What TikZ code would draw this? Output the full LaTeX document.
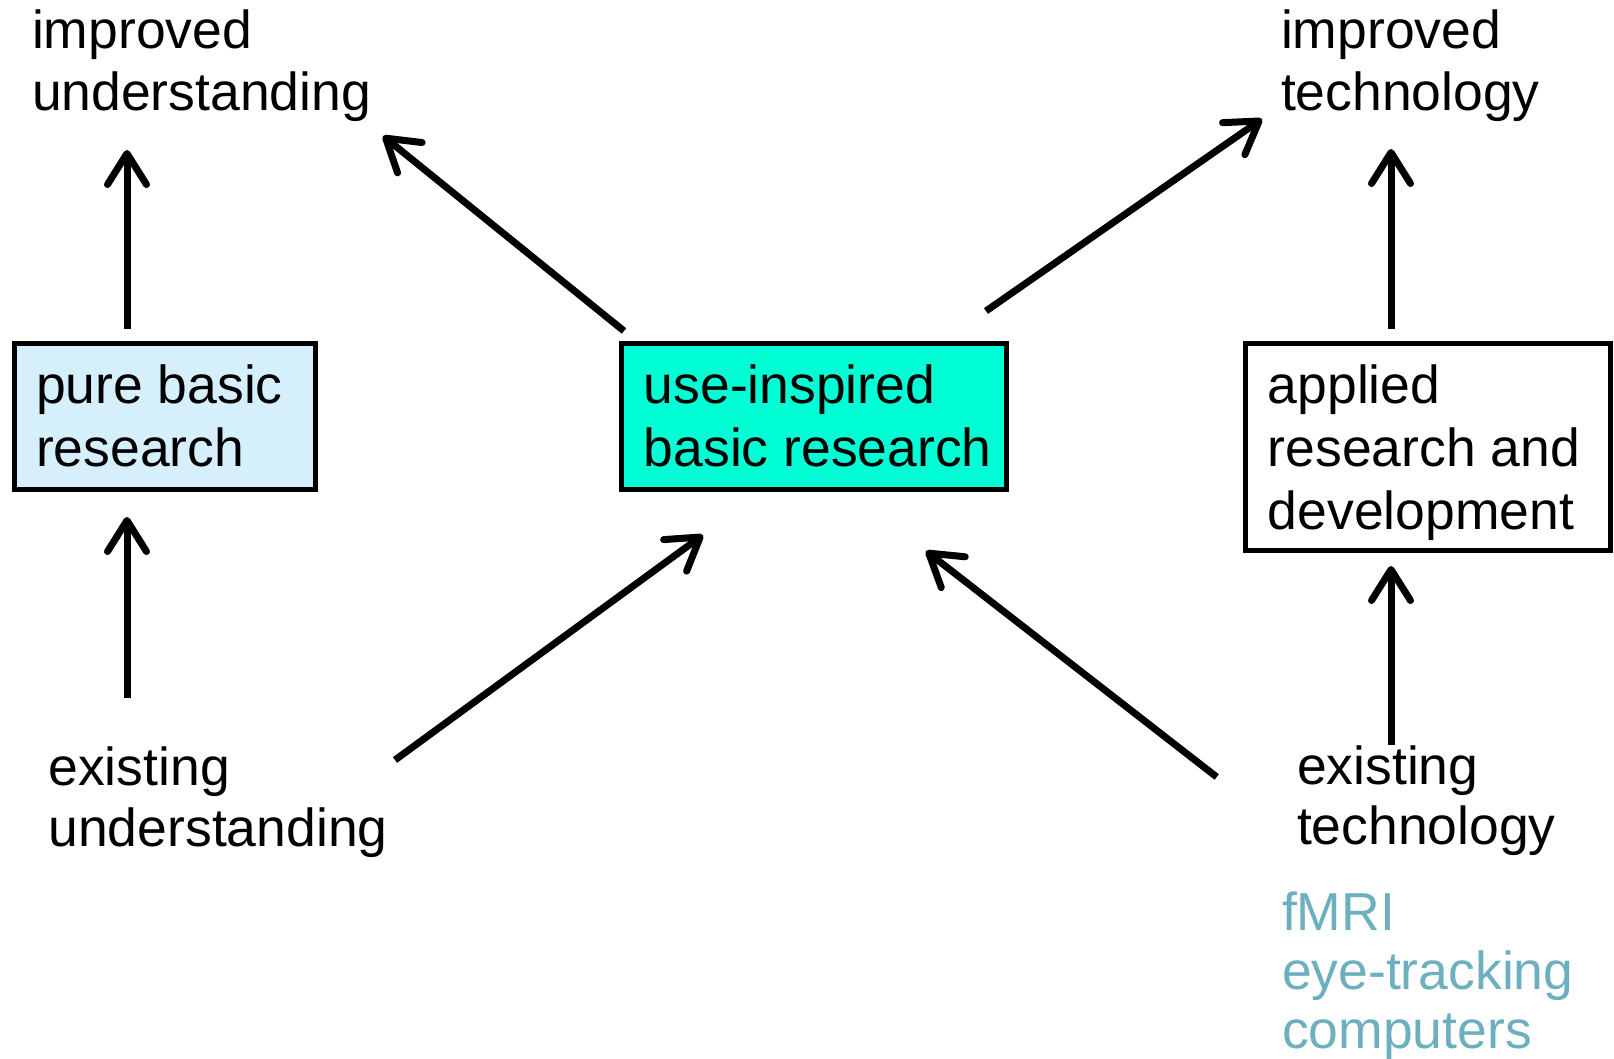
\documentclass[tikz,border=0pt]{standalone}
\usepackage{fontspec}
\setmainfont{Liberation Sans}
\usetikzlibrary{arrows.meta}
\definecolor{pbfill}{RGB}{214,239,253}
\definecolor{uifill}{RGB}{0,255,213}
\definecolor{extext}{RGB}{108,176,192}
\begin{document}
\begin{tikzpicture}[x=1pt,y=-1pt,
  box/.style={draw=black, line width=5pt, rectangle, align=flush left, anchor=north west,
    outer sep=0pt, font=\fontsize{53.5}{63}\selectfont, inner ysep=0pt},
  lbl/.style={align=flush left, anchor=base west, inner sep=0pt, outer sep=0pt, text width=600pt},
  arr/.style={line width=7pt, -{Straight Barb[length=31pt,width=39pt,round]}}]
\useasboundingbox (0,0) rectangle (1614,1059);

% boxes
\node[box, fill=pbfill, text width=258pt, inner xsep=21.5pt, minimum height=146pt]
  (pb) at (14.5,343.2) {pure basic\\research};
\node[box, fill=uifill, text width=341pt, inner xsep=22pt, minimum height=146pt]
  (ui) at (621.8,343.2) {use-inspired\\\mbox{basic research}};
\node[box, fill=white, text width=320.7pt, inner xsep=22pt, minimum height=206.8pt]
  (ap) at (1245.8,343.2) {applied\\\mbox{research and}\\development\par\kern-11.2pt};

% labels
\node[lbl, font=\fontsize{53.5}{62}\selectfont] (iu) at (32,48.5) {improved\\understanding};
\node[lbl, font=\fontsize{53.5}{62}\selectfont] (it) at (1281,48.5) {improved\\technology};
\node[lbl, font=\fontsize{53.5}{61}\selectfont] (eu) at (48.5,785) {existing\\understanding};
\node[lbl, font=\fontsize{53.5}{60}\selectfont] (et) at (1297,784) {existing\\technology};
\node[lbl, font=\fontsize{53.5}{59}\selectfont, text=extext] (ex) at (1282,930) {fMRI\\eye-tracking\\computers};

% arrow end points
\coordinate (a1s) at (127,329);   \coordinate (a1e) at (127,150);
\coordinate (a2s) at (127,698);   \coordinate (a2e) at (127,517);
\coordinate (a3s) at (624,331);   \coordinate (a3e) at (383,136);
\coordinate (a4s) at (986,311);   \coordinate (a4e) at (1262,119);
\coordinate (a5s) at (1391,329);  \coordinate (a5e) at (1391,149);
\coordinate (a6s) at (1391,745);  \coordinate (a6e) at (1391,566);
\coordinate (a7s) at (395,760);   \coordinate (a7e) at (703,535);
\coordinate (a8s) at (1216.7,777); \coordinate (a8e) at (926,551);

\draw[arr] (a1s) -- (a1e);
\draw[arr] (a2s) -- (a2e);
\draw[arr] (a3s) -- (a3e);
\draw[arr] (a4s) -- (a4e);
\draw[arr] (a5s) -- (a5e);
\draw[arr] (a6s) -- (a6e);
\draw[arr] (a7s) -- (a7e);
\draw[arr] (a8s) -- (a8e);
\end{tikzpicture}
\end{document}
